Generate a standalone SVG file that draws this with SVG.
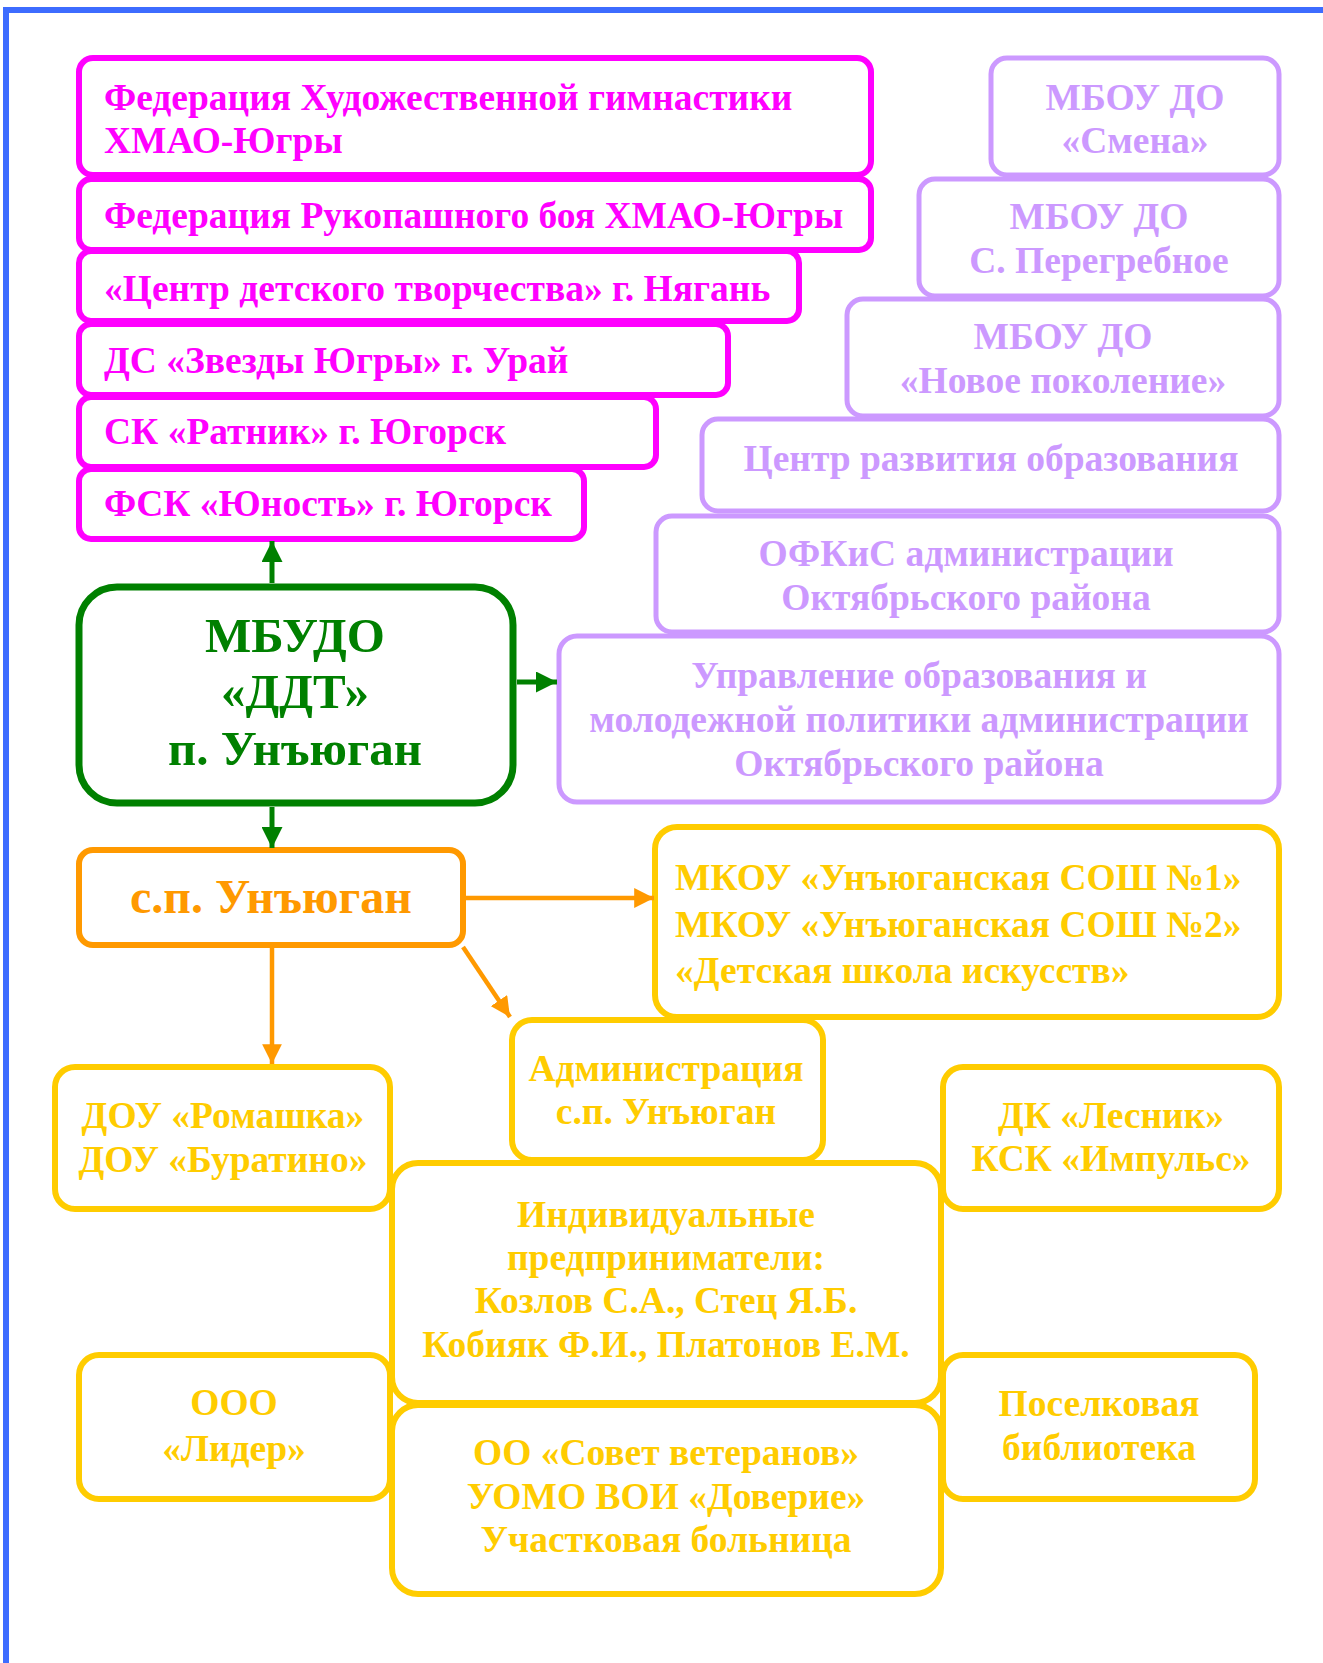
<svg xmlns="http://www.w3.org/2000/svg" width="1323" height="1663" viewBox="0 0 1323 1663">
<defs>
<style>
text{font-family:"Liberation Serif","Times New Roman",serif;font-weight:bold;font-size:37.5px}
.m rect{fill:#fff;stroke:#ff00ff;stroke-width:6}
.m text{fill:#ff00ff}
.l rect{fill:#fff;stroke:#cc99ff;stroke-width:5}
.l text{fill:#cc99ff;text-anchor:middle}
.y rect{fill:#fff;stroke:#ffcc00;stroke-width:6}
.y text{fill:#ffcc00;text-anchor:middle}
.g rect{fill:#fff;stroke:#008000;stroke-width:7}
.g text{fill:#008000;text-anchor:middle;font-size:49px}
.o rect{fill:#fff;stroke:#ff9900;stroke-width:6}
.o text{fill:#ff9900;text-anchor:middle;font-size:48px}
</style>
<marker id="ag" viewBox="0 0 10 10" refX="10" refY="5" markerWidth="4.2" markerHeight="4.2" orient="auto" markerUnits="strokeWidth"><path d="M0,0 L10,5 L0,10 z" fill="#008000"/></marker>
<marker id="ao" viewBox="0 0 10 10" refX="10" refY="5" markerWidth="4.4" markerHeight="4.4" orient="auto" markerUnits="strokeWidth"><path d="M0,0 L10,5 L0,10 z" fill="#ff9900"/></marker>
</defs>
<rect width="1323" height="1663" fill="#fff"/>
<path d="M6,1670 V10 H1330" fill="none" stroke="#3d6cff" stroke-width="6"/>

<g id="lav">
<g id="l1" class="l"><rect x="991" y="58" width="288" height="117" rx="16"/><text x="1135" y="110">МБОУ ДО</text><text x="1135" y="153">«Смена»</text></g>
<g id="l2" class="l"><rect x="919" y="179" width="360" height="117" rx="16"/><text x="1099" y="229">МБОУ ДО</text><text x="1099" y="273">С. Перегребное</text></g>
<g id="l3" class="l"><rect x="847" y="299" width="432" height="117" rx="16"/><text x="1063" y="349">МБОУ ДО</text><text x="1063" y="393">«Новое поколение»</text></g>
<g id="l4" class="l"><rect x="702" y="419" width="577" height="92" rx="16"/><text x="991" y="471">Центр развития образования</text></g>
<g id="l5" class="l"><rect x="656" y="516" width="623" height="116" rx="16"/><text x="966" y="566">ОФКиС администрации</text><text x="966" y="610">Октябрьского района</text></g>
<g id="l6" class="l"><rect x="559" y="636" width="720" height="166" rx="18"/><text x="919" y="688">Управление образования и</text><text x="919" y="732">молодежной политики администрации</text><text x="919" y="776">Октябрьского района</text></g>
</g>

<g id="mag">
<g id="m1" class="m"><rect x="79" y="58" width="792" height="117" rx="14"/><text x="104" y="110">Федерация Художественной гимнастики</text><text x="104" y="153">ХМАО-Югры</text></g>
<g id="m2" class="m"><rect x="79" y="179" width="792" height="71" rx="12"/><text x="104" y="228">Федерация Рукопашного боя ХМАО-Югры</text></g>
<g id="m3" class="m"><rect x="79" y="251" width="720" height="70" rx="12"/><text x="104" y="301">«Центр детского творчества» г. Нягань</text></g>
<g id="m4" class="m"><rect x="79" y="324" width="649" height="71" rx="12"/><text x="104" y="373">ДС «Звезды Югры» г. Урай</text></g>
<g id="m5" class="m"><rect x="79" y="397" width="577" height="70" rx="12"/><text x="104" y="444">СК «Ратник» г. Югорск</text></g>
<g id="m6" class="m"><rect x="79" y="469" width="505" height="70" rx="12"/><text x="104" y="516">ФСК «Юность» г. Югорск</text></g>
</g>

<g id="ddt" class="g"><rect x="79" y="587" width="434" height="216" rx="38"/><text x="295" y="652">МБУДО</text><text x="295" y="708">«ДДТ»</text><text x="295" y="765">п. Унъюган</text></g>

<g id="sp" class="o"><rect x="79" y="850" width="384" height="95" rx="14"/><text x="271" y="913">с.п. Унъюган</text></g>

<g id="yel">
<g id="y1" class="y"><rect x="655" y="827" width="624" height="190" rx="22"/><text x="675" y="890" style="text-anchor:start">МКОУ «Унъюганская СОШ №1»</text><text x="675" y="937" style="text-anchor:start">МКОУ «Унъюганская СОШ №2»</text><text x="675" y="983" style="text-anchor:start">«Детская школа искусств»</text></g>
<g id="y2" class="y"><rect x="512" y="1020" width="311" height="140" rx="20"/><text x="666" y="1081">Администрация</text><text x="666" y="1124">с.п. Унъюган</text></g>
<g id="y3" class="y"><rect x="55" y="1067" width="335" height="142" rx="20"/><text x="223" y="1128">ДОУ «Ромашка»</text><text x="223" y="1172">ДОУ «Буратино»</text></g>
<g id="y4" class="y"><rect x="943" y="1067" width="336" height="142" rx="20"/><text x="1111" y="1128">ДК «Лесник»</text><text x="1111" y="1171">КСК «Импульс»</text></g>
<g id="y5" class="y"><rect x="392" y="1163" width="549" height="240" rx="26"/><text x="666" y="1227">Индивидуальные</text><text x="666" y="1270">предприниматели:</text><text x="666" y="1313">Козлов С.А., Стец Я.Б.</text><text x="666" y="1357">Кобияк Ф.И., Платонов Е.М.</text></g>
<g id="y6" class="y"><rect x="79" y="1355" width="311" height="144" rx="20"/><text x="234" y="1415">ООО</text><text x="234" y="1461">«Лидер»</text></g>
<g id="y7" class="y"><rect x="943" y="1355" width="312" height="144" rx="20"/><text x="1099" y="1416">Поселковая</text><text x="1099" y="1460">библиотека</text></g>
<g id="y8" class="y"><rect x="392" y="1405" width="549" height="189" rx="26"/><text x="666" y="1465">ОО «Совет ветеранов»</text><text x="666" y="1509">УОМО ВОИ «Доверие»</text><text x="666" y="1552">Участковая больница</text></g>
</g>

<g id="connectors" fill="none">
<path d="M272,583 V541" stroke="#008000" stroke-width="5" marker-end="url(#ag)"/>
<path d="M517,682 H557" stroke="#008000" stroke-width="5" marker-end="url(#ag)"/>
<path d="M272,807 V848" stroke="#008000" stroke-width="5" marker-end="url(#ag)"/>
<path d="M466,898 H654" stroke="#ff9900" stroke-width="4.5" marker-end="url(#ao)"/>
<path d="M463,947 L510,1017" stroke="#ff9900" stroke-width="4.5" marker-end="url(#ao)"/>
<path d="M272,948 V1064" stroke="#ff9900" stroke-width="4.5" marker-end="url(#ao)"/>
</g>
</svg>
